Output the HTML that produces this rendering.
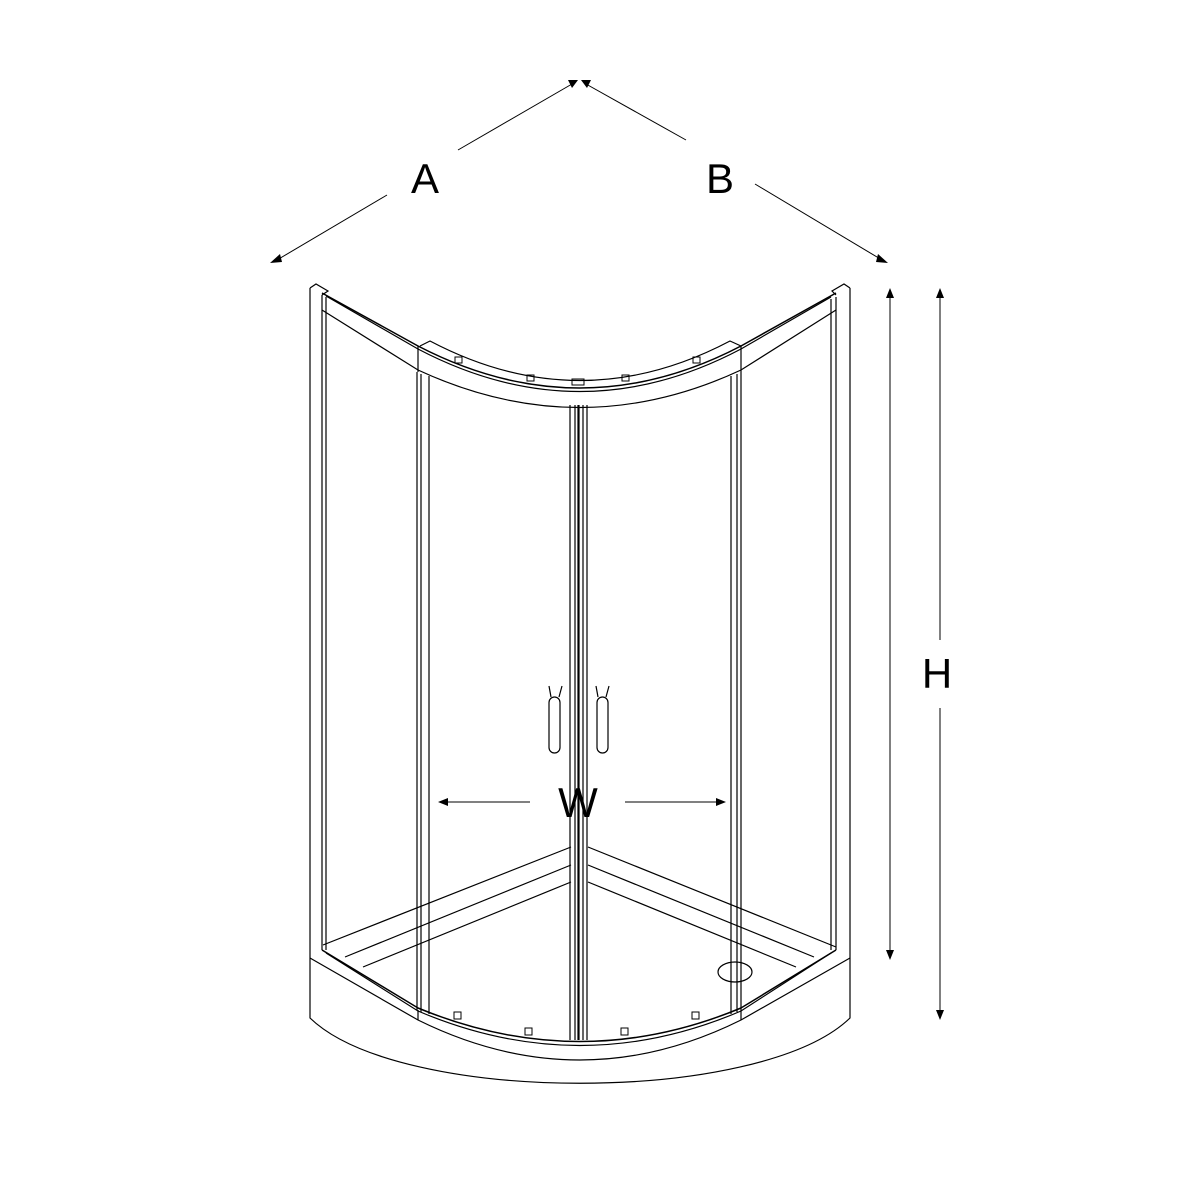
<!DOCTYPE html>
<html><head><meta charset="utf-8"><style>html,body{margin:0;padding:0;background:#fff}svg{display:block}</style></head>
<body>
<svg width="1200" height="1200" viewBox="0 0 1200 1200" xmlns="http://www.w3.org/2000/svg">
<g fill="none" stroke="#000" stroke-width="1.2">
<line x1="310" y1="288" x2="310" y2="958"/>
<line x1="322" y1="295" x2="322" y2="950"/>
<line x1="326" y1="297" x2="326" y2="950"/>
<path d="M310 288 L316 284 L328 291 L322 295"/>
<line x1="850" y1="288" x2="850" y2="958"/>
<line x1="836" y1="297" x2="836" y2="950"/>
<line x1="831" y1="299" x2="831" y2="950"/>
<path d="M850 288 L844 284 L832 291 L836 295"/>
<path d="M322 293 L418 346 Q580 430 741 346 L836 293" stroke-width="1.5"/>
<path d="M326 296 L418 349 Q580 434 741 349 L831 297"/>
<path d="M322 310 L418 370 Q580 445 741 370 L836 310"/>
<line x1="418" y1="346" x2="418" y2="372"/>
<line x1="741" y1="346" x2="741" y2="372"/>
<path d="M420 346 L430 341 Q580 420 730 341 L741 346"/>
<g stroke-width="1">
<rect x="455" y="357" width="7" height="6"/><rect x="527" y="375" width="7" height="6"/><rect x="572" y="379" width="12" height="6"/><rect x="622" y="375" width="7" height="6"/><rect x="693" y="357" width="7" height="6"/>
</g>
<line x1="417" y1="372" x2="417" y2="1010"/>
<line x1="421" y1="374" x2="421" y2="1012"/>
<line x1="429" y1="376" x2="429" y2="1014"/>
<line x1="731" y1="376" x2="731" y2="1014"/>
<line x1="737" y1="374" x2="737" y2="1012"/>
<line x1="741" y1="372" x2="741" y2="1010"/>
<line x1="570" y1="405" x2="570" y2="1040"/>
<line x1="575" y1="405" x2="575" y2="1040"/>
<line x1="578.5" y1="405" x2="578.5" y2="1040" stroke-width="2.2"/>
<line x1="583" y1="405" x2="583" y2="1040"/>
<line x1="587" y1="405" x2="587" y2="1040"/>
<rect x="549" y="697" width="11" height="56" rx="5.5"/>
<rect x="597" y="697" width="11" height="56" rx="5.5"/>
<path d="M551 697 L549 686 M559 697 L562 686 M598 697 L596 686 M606 697 L609 686"/>
<line x1="571" y1="847" x2="323" y2="945"/>
<line x1="571" y1="865" x2="345" y2="957"/>
<line x1="571" y1="882" x2="363" y2="967"/>
<line x1="588" y1="847" x2="836" y2="947"/>
<line x1="588" y1="865" x2="814" y2="957"/>
<line x1="588" y1="882" x2="796" y2="967"/>
<ellipse cx="735" cy="972" rx="17" ry="10"/>
<path d="M322 950 L418 1008 Q580 1075 741 1008 L836 950" stroke-width="1.5"/>
<path d="M326 953 L418 1011 Q580 1080 741 1011 L831 953"/>
<path d="M310 958 L310 1018 C400 1105 760 1105 850 1018 L850 958"/>
<path d="M310 958 L418 1020 Q580 1100 741 1020 L850 958"/>
<line x1="418" y1="1010" x2="418" y2="1020"/>
<line x1="741" y1="1010" x2="741" y2="1020"/>
<g stroke-width="1">
<rect x="454" y="1012" width="7" height="7"/><rect x="525" y="1028" width="7" height="7"/><rect x="621" y="1028" width="7" height="7"/><rect x="692" y="1012" width="7" height="7"/>
</g>
<g stroke-width="1">
<line x1="277" y1="260" x2="387" y2="195"/>
<line x1="458" y1="150" x2="572" y2="84"/>
<line x1="586" y1="84" x2="686" y2="140"/>
<line x1="755" y1="184" x2="882" y2="260"/>
<line x1="890" y1="295" x2="890" y2="955"/>
<line x1="940" y1="295" x2="940" y2="640"/>
<line x1="940" y1="708" x2="940" y2="1015"/>
<line x1="444" y1="802" x2="530" y2="802"/>
<line x1="625" y1="802" x2="720" y2="802"/>
</g>
</g>
<g fill="#000">
<polygon points="270,263 280,254 282,262"/>
<polygon points="578,80 568,80 572,88"/>
<polygon points="581,80 591,80 587,88"/>
<polygon points="888,263 878,254 876,262"/>
<polygon points="890,288 886,298 894,298"/>
<polygon points="890,960 886,950 894,950"/>
<polygon points="940,288 936,298 944,298"/>
<polygon points="940,1020 936,1010 944,1010"/>
<polygon points="438,802 448,798 448,806"/>
<polygon points="726,802 716,798 716,806"/>
</g>
<g font-family="Liberation Sans, sans-serif" font-size="42" text-anchor="middle" fill="#000">
<text x="425" y="193">A</text>
<text x="720" y="193">B</text>
<text x="937" y="688">H</text>
<text x="578" y="817">W</text>
</g>
</svg>
</body></html>
